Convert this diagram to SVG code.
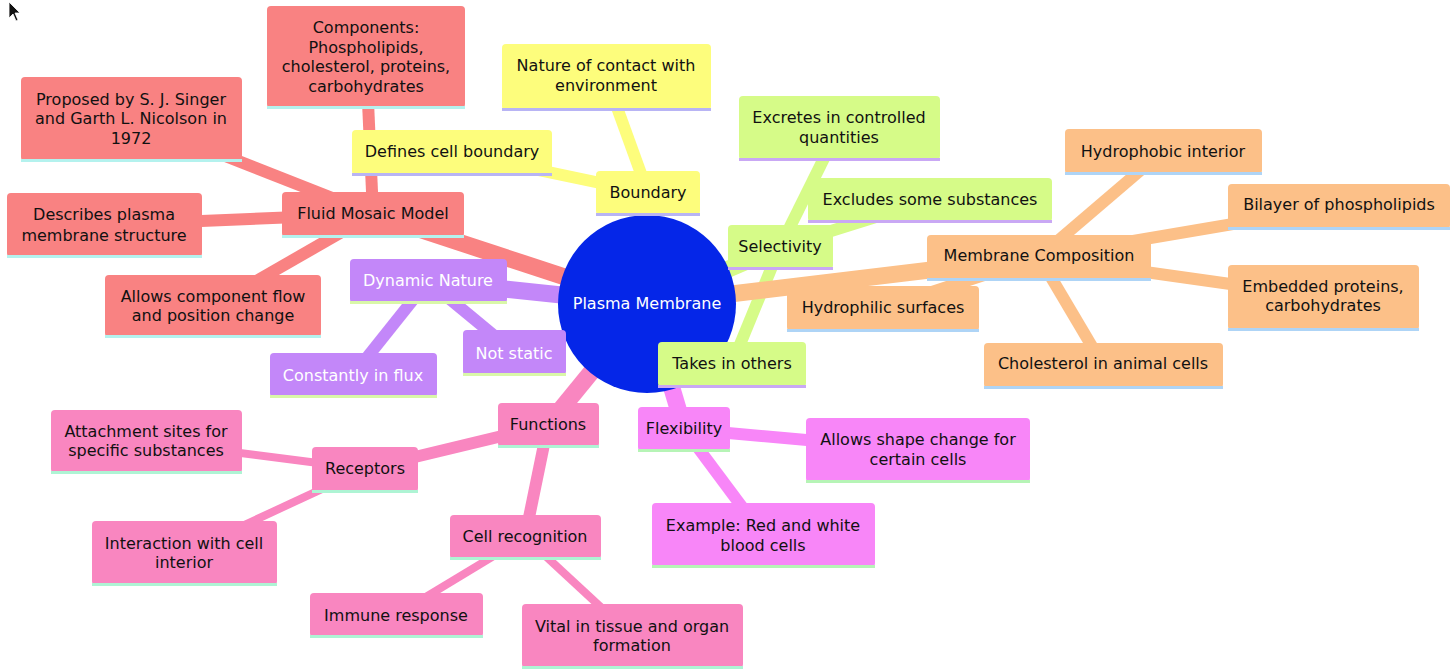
<svg xmlns="http://www.w3.org/2000/svg" width="1450" height="671" viewBox="0 0 1450 671">
<style>
text{font-family:"DejaVu Sans","Liberation Sans",sans-serif;font-size:16px;text-anchor:middle;fill:#111}
.wt{fill:#fff}
.e{fill:none;stroke-linecap:butt}
.d0{stroke-width:17}
.d1{stroke-width:12}
.d2{stroke-width:8}
.red{fill:#f98282}.redE{stroke:#f98282}.redU{fill:#b4f2ee}
.yel{fill:#fdfd7c}.yelE{stroke:#fdfd7c}.yelU{fill:#b8b4f4}
.grn{fill:#d6fb88}.grnE{stroke:#d6fb88}.grnU{fill:#c9a8f4}
.org{fill:#fcc088}.orgE{stroke:#fcc088}.orgU{fill:#aed4f6}
.pur{fill:#c387f9}.purE{stroke:#c387f9}.purU{fill:#d9f7a8}
.pnk{fill:#f986c0}.pnkE{stroke:#f986c0}.pnkU{fill:#aef4d4}
.mag{fill:#f886f8}.magE{stroke:#f886f8}.magU{fill:#b6f4b6}
</style>
<rect width="1450" height="671" fill="#ffffff"/>
<g id="connectors">
  <!-- red -->
  <line class="e d0 redE" x1="647" y1="304" x2="373" y2="214"/>
  <line class="e d1 redE" x1="373" y1="214" x2="366" y2="57"/>
  <line class="e d1 redE" x1="373" y1="214" x2="131" y2="119"/>
  <line class="e d1 redE" x1="373" y1="214" x2="104" y2="225"/>
  <line class="e d1 redE" x1="373" y1="214" x2="213" y2="306"/>
  <!-- yellow -->
  <line class="e d0 yelE" x1="647" y1="304" x2="648" y2="193"/>
  <line class="e d1 yelE" x1="648" y1="193" x2="606" y2="77"/>
  <line class="e d1 yelE" x1="648" y1="193" x2="452" y2="152"/>
  <!-- green -->
  <line class="e d0 grnE" x1="647" y1="304" x2="780" y2="247"/>
  <line class="e d1 grnE" x1="780" y1="247" x2="839" y2="128"/>
  <line class="e d1 grnE" x1="780" y1="247" x2="930" y2="200"/>
  <line class="e d1 grnE" x1="780" y1="247" x2="732" y2="364"/>
  <!-- orange -->
  <line class="e d0 orgE" x1="647" y1="304" x2="1039" y2="257"/>
  <line class="e d1 orgE" x1="1039" y1="257" x2="1163" y2="151"/>
  <line class="e d1 orgE" x1="1039" y1="257" x2="1339" y2="206"/>
  <line class="e d1 orgE" x1="1039" y1="257" x2="1323" y2="297"/>
  <line class="e d1 orgE" x1="1039" y1="257" x2="883" y2="308"/>
  <line class="e d1 orgE" x1="1039" y1="257" x2="1103" y2="365"/>
  <!-- purple -->
  <line class="e d0 purE" x1="647" y1="304" x2="428" y2="281"/>
  <line class="e d1 purE" x1="428" y1="281" x2="514" y2="352"/>
  <line class="e d1 purE" x1="428" y1="281" x2="353" y2="375"/>
  <!-- pink -->
  <line class="e d0 pnkE" x1="647" y1="304" x2="548" y2="425"/>
  <line class="e d1 pnkE" x1="548" y1="425" x2="365" y2="469"/>
  <line class="e d1 pnkE" x1="548" y1="425" x2="525" y2="537"/>
  <line class="e d2 pnkE" x1="365" y1="469" x2="146" y2="441"/>
  <line class="e d2 pnkE" x1="365" y1="469" x2="184" y2="553"/>
  <line class="e d2 pnkE" x1="525" y1="537" x2="396" y2="615"/>
  <line class="e d2 pnkE" x1="525" y1="537" x2="632" y2="636"/>
  <!-- magenta -->
  <line class="e d0 magE" x1="647" y1="304" x2="684" y2="429"/>
  <line class="e d1 magE" x1="684" y1="429" x2="918" y2="450"/>
  <line class="e d1 magE" x1="684" y1="429" x2="763" y2="535"/>
</g>

<g id="root">
  <circle cx="647" cy="304" r="89" fill="#0526e8"/>
  <text class="wt" x="647" y="309">Plasma Membrane</text>
</g>

<!-- red section -->
<g id="n-fluid"><rect class="red" x="282" y="192" width="182" height="45" rx="4"/><rect class="redU" x="282" y="235" width="182" height="3"/><text x="373" y="219">Fluid Mosaic Model</text></g>
<g id="n-components"><rect class="red" x="267" y="6" width="198" height="102" rx="4"/><rect class="redU" x="267" y="106" width="198" height="3"/><text x="366" y="33">Components:</text><text x="366" y="53">Phospholipids,</text><text x="366" y="72">cholesterol, proteins,</text><text x="366" y="92">carbohydrates</text></g>
<g id="n-proposed"><rect class="red" x="21" y="77" width="221" height="84" rx="4"/><rect class="redU" x="21" y="159" width="221" height="3"/><text x="131" y="105">Proposed by S. J. Singer</text><text x="131" y="124">and Garth L. Nicolson in</text><text x="131" y="144">1972</text></g>
<g id="n-describes"><rect class="red" x="7" y="193" width="195" height="64" rx="4"/><rect class="redU" x="7" y="255" width="195" height="3"/><text x="104" y="220">Describes plasma</text><text x="104" y="241">membrane structure</text></g>
<g id="n-allows"><rect class="red" x="105" y="275" width="216" height="62" rx="4"/><rect class="redU" x="105" y="335" width="216" height="3"/><text x="213" y="302">Allows component flow</text><text x="213" y="321">and position change</text></g>

<!-- yellow section -->
<g id="n-boundary"><rect class="yel" x="596" y="171" width="104" height="44" rx="4"/><rect class="yelU" x="596" y="213" width="104" height="3"/><text x="648" y="198">Boundary</text></g>
<g id="n-nature"><rect class="yel" x="502" y="44" width="209" height="66" rx="4"/><rect class="yelU" x="502" y="108" width="209" height="3"/><text x="606" y="71">Nature of contact with</text><text x="606" y="91">environment</text></g>
<g id="n-defines"><rect class="yel" x="352" y="130" width="200" height="45" rx="4"/><rect class="yelU" x="352" y="173" width="200" height="3"/><text x="452" y="157">Defines cell boundary</text></g>

<!-- green section -->
<g id="n-selectivity"><rect class="grn" x="728" y="225" width="105" height="44" rx="4"/><rect class="grnU" x="728" y="267" width="105" height="3"/><text x="780" y="252">Selectivity</text></g>
<g id="n-excretes"><rect class="grn" x="739" y="96" width="201" height="64" rx="4"/><rect class="grnU" x="739" y="158" width="201" height="3"/><text x="839" y="123">Excretes in controlled</text><text x="839" y="143">quantities</text></g>
<g id="n-excludes"><rect class="grn" x="808" y="178" width="244" height="44" rx="4"/><rect class="grnU" x="808" y="220" width="244" height="3"/><text x="930" y="205">Excludes some substances</text></g>
<g id="n-takes"><rect class="grn" x="658" y="342" width="148" height="45" rx="4"/><rect class="grnU" x="658" y="385" width="148" height="3"/><text x="732" y="369">Takes in others</text></g>

<!-- orange section -->
<g id="n-membrane"><rect class="org" x="927" y="235" width="224" height="45" rx="4"/><rect class="orgU" x="927" y="278" width="224" height="3"/><text x="1039" y="261">Membrane Composition</text></g>
<g id="n-hydrophobic"><rect class="org" x="1065" y="129" width="197" height="45" rx="4"/><rect class="orgU" x="1065" y="172" width="197" height="3"/><text x="1163" y="157">Hydrophobic interior</text></g>
<g id="n-bilayer"><rect class="org" x="1228" y="184" width="222" height="45" rx="4"/><rect class="orgU" x="1228" y="227" width="222" height="3"/><text x="1339" y="210">Bilayer of phospholipids</text></g>
<g id="n-embedded"><rect class="org" x="1228" y="265" width="191" height="65" rx="4"/><rect class="orgU" x="1228" y="328" width="191" height="3"/><text x="1323" y="292">Embedded proteins,</text><text x="1323" y="311">carbohydrates</text></g>
<g id="n-hydrophilic"><rect class="org" x="787" y="286" width="192" height="45" rx="4"/><rect class="orgU" x="787" y="329" width="192" height="3"/><text x="883" y="313">Hydrophilic surfaces</text></g>
<g id="n-cholesterol"><rect class="org" x="984" y="343" width="239" height="45" rx="4"/><rect class="orgU" x="984" y="386" width="239" height="3"/><text x="1103" y="369">Cholesterol in animal cells</text></g>

<!-- purple section -->
<g id="n-dynamic"><rect class="pur" x="350" y="259" width="157" height="44" rx="4"/><rect class="purU" x="350" y="301" width="157" height="3"/><text class="wt" x="428" y="286">Dynamic Nature</text></g>
<g id="n-notstatic"><rect class="pur" x="463" y="330" width="103" height="45" rx="4"/><rect class="purU" x="463" y="373" width="103" height="3"/><text class="wt" x="514" y="359">Not static</text></g>
<g id="n-flux"><rect class="pur" x="270" y="353" width="167" height="44" rx="4"/><rect class="purU" x="270" y="395" width="167" height="3"/><text class="wt" x="353" y="381">Constantly in flux</text></g>

<!-- pink section -->
<g id="n-functions"><rect class="pnk" x="498" y="403" width="101" height="44" rx="4"/><rect class="pnkU" x="498" y="445" width="101" height="3"/><text x="548" y="430">Functions</text></g>
<g id="n-receptors"><rect class="pnk" x="312" y="447" width="106" height="45" rx="4"/><rect class="pnkU" x="312" y="490" width="106" height="3"/><text x="365" y="474">Receptors</text></g>
<g id="n-attachment"><rect class="pnk" x="51" y="410" width="191" height="63" rx="4"/><rect class="pnkU" x="51" y="471" width="191" height="3"/><text x="146" y="437">Attachment sites for</text><text x="146" y="456">specific substances</text></g>
<g id="n-interaction"><rect class="pnk" x="92" y="521" width="185" height="64" rx="4"/><rect class="pnkU" x="92" y="583" width="185" height="3"/><text x="184" y="549">Interaction with cell</text><text x="184" y="568">interior</text></g>
<g id="n-recognition"><rect class="pnk" x="450" y="515" width="151" height="44" rx="4"/><rect class="pnkU" x="450" y="557" width="151" height="3"/><text x="525" y="542">Cell recognition</text></g>
<g id="n-immune"><rect class="pnk" x="310" y="593" width="173" height="44" rx="4"/><rect class="pnkU" x="310" y="635" width="173" height="3"/><text x="396" y="621">Immune response</text></g>
<g id="n-vital"><rect class="pnk" x="522" y="604" width="221" height="64" rx="4"/><rect class="pnkU" x="522" y="666" width="221" height="3"/><text x="632" y="632">Vital in tissue and organ</text><text x="632" y="651">formation</text></g>

<!-- magenta section -->
<g id="n-flexibility"><rect class="mag" x="638" y="407" width="92" height="44" rx="4"/><rect class="magU" x="638" y="449" width="92" height="3"/><text x="684" y="434">Flexibility</text></g>
<g id="n-shape"><rect class="mag" x="806" y="418" width="224" height="64" rx="4"/><rect class="magU" x="806" y="480" width="224" height="3"/><text x="918" y="445">Allows shape change for</text><text x="918" y="465">certain cells</text></g>
<g id="n-example"><rect class="mag" x="652" y="503" width="223" height="64" rx="4"/><rect class="magU" x="652" y="565" width="223" height="3"/><text x="763" y="531">Example: Red and white</text><text x="763" y="551">blood cells</text></g>

<g id="cursor"><polygon points="9,2 9,18 13,14 16,21 18,20 15,13 20,13" fill="#111" stroke="#fff" stroke-width="0.8"/></g>
</svg>
